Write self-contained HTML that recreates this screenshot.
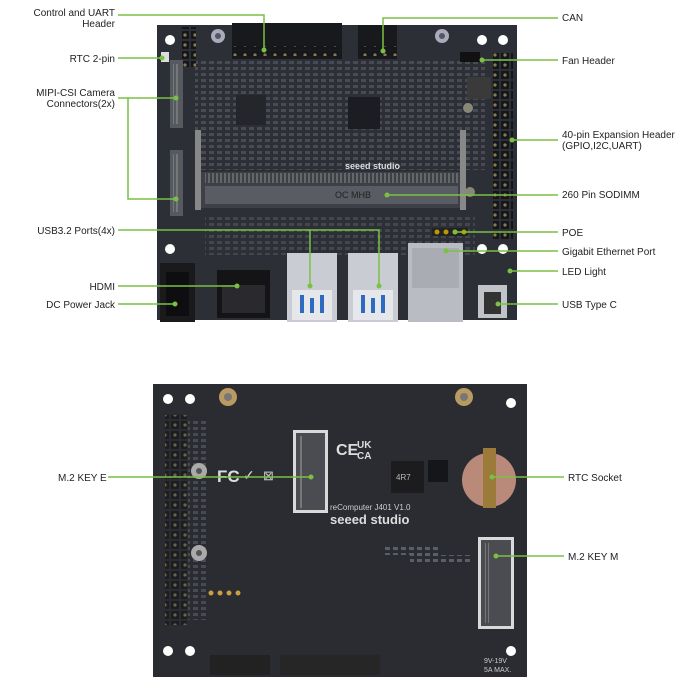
<!DOCTYPE html>
<html><head><style>
html,body{margin:0;padding:0;background:#fff;}
svg{display:block}
text{font-family:"Liberation Sans",sans-serif;font-size:10px;fill:#222}
</style></head><body>
<svg width="700" height="700" viewBox="0 0 700 700" xmlns="http://www.w3.org/2000/svg">
<defs>
<pattern id="chip" width="8" height="6" patternUnits="userSpaceOnUse"><rect x="1" y="1" width="5" height="3" fill="#5a5e66"/></pattern>
<pattern id="pins" width="4" height="4" patternUnits="userSpaceOnUse"><rect width="2" height="4" fill="#777"/></pattern>
<pattern id="hdr" width="10" height="10" patternUnits="userSpaceOnUse"><rect x="1" y="1" width="8" height="8" fill="#15161a"/><circle cx="5" cy="5" r="1.6" fill="#8a7a50"/></pattern>
</defs>
<!-- TOP BOARD -->
<rect x="157" y="25" width="360" height="295" fill="#2c2f36"/>
<rect x="195" y="60" width="290" height="110" fill="url(#chip)" opacity="0.6"/>
<rect x="205" y="215" width="270" height="40" fill="url(#chip)" opacity="0.5"/>
<circle cx="170" cy="40" r="5" fill="#fff"/><circle cx="482" cy="40" r="5" fill="#fff"/><circle cx="503" cy="40" r="5" fill="#fff"/>
<circle cx="170" cy="249" r="5" fill="#fff"/><circle cx="482" cy="249" r="5" fill="#fff"/><circle cx="503" cy="249" r="5" fill="#fff"/>
<circle cx="218" cy="36" r="7" fill="#aab"/><circle cx="218" cy="36" r="3" fill="#556"/>
<circle cx="442" cy="36" r="7" fill="#aab"/><circle cx="442" cy="36" r="3" fill="#556"/>
<circle cx="468" cy="108" r="5" fill="#887"/><circle cx="470" cy="192" r="5" fill="#887"/>
<rect x="182" y="27" width="14" height="40" fill="url(#hdr)"/>
<rect x="232" y="23" width="110" height="36" fill="#18191d"/>
<rect x="232" y="46" width="110" height="10" fill="url(#hdr)"/>
<rect x="358" y="25" width="39" height="34" fill="#18191d"/>
<rect x="358" y="46" width="39" height="10" fill="url(#hdr)"/>
<rect x="161" y="52" width="8" height="10" fill="#ddd"/>
<rect x="460" y="52" width="20" height="10" fill="#111"/>
<rect x="493" y="53" width="20" height="187" fill="url(#hdr)"/>
<rect x="467" y="77" width="24" height="22" fill="#3a3a3a"/>
<rect x="348" y="97" width="32" height="32" fill="#1c1d22"/>
<rect x="236" y="95" width="30" height="30" fill="#24262b"/>
<rect x="170" y="60" width="13" height="68" fill="#555a60"/><rect x="173" y="64" width="6" height="60" fill="url(#pins)"/>
<rect x="170" y="150" width="13" height="66" fill="#555a60"/><rect x="173" y="154" width="6" height="58" fill="url(#pins)"/>
<rect x="200" y="172" width="263" height="36" fill="#3e4047"/>
<rect x="205" y="173" width="253" height="10" fill="url(#pins)" opacity="0.7"/>
<rect x="205" y="186" width="253" height="18" fill="#5a5c63"/>
<text x="335" y="198" style="font-size:9px;fill:#222">OC MHB</text>
<text x="345" y="169" style="font-size:9px;fill:#ddd;font-weight:bold">seeed studio</text>
<rect x="195" y="130" width="6" height="80" fill="#888"/><rect x="460" y="130" width="6" height="80" fill="#888"/>
<rect x="160" y="263" width="35" height="59" fill="#1a1a1c"/><rect x="166" y="272" width="23" height="44" fill="#0e0e10"/>
<rect x="217" y="270" width="53" height="48" fill="#141416"/><rect x="222" y="285" width="43" height="28" fill="#2a2a2e"/>
<rect x="287" y="253" width="50" height="69" fill="#c9ccd2"/><rect x="292" y="290" width="40" height="30" fill="#e5e7ea"/><rect x="300" y="295" width="4" height="18" fill="#2d6bc0"/><rect x="320" y="295" width="4" height="18" fill="#2d6bc0"/><rect x="310" y="298" width="4" height="15" fill="#2d6bc0"/>
<rect x="348" y="253" width="50" height="69" fill="#c9ccd2"/><rect x="353" y="290" width="40" height="30" fill="#e5e7ea"/><rect x="361" y="295" width="4" height="18" fill="#2d6bc0"/><rect x="381" y="295" width="4" height="18" fill="#2d6bc0"/><rect x="371" y="298" width="4" height="15" fill="#2d6bc0"/>
<rect x="408" y="243" width="55" height="79" fill="#b9bcc2"/><rect x="412" y="248" width="47" height="40" fill="#a9acb2"/>
<rect x="478" y="285" width="29" height="33" fill="#c0c3c8"/><rect x="484" y="292" width="17" height="22" fill="#333"/>
<rect x="432" y="228" width="36" height="8" fill="#222"/><circle cx="437" cy="232" r="2.5" fill="#b90"/><circle cx="446" cy="232" r="2.5" fill="#b90"/><circle cx="455" cy="232" r="2.5" fill="#b90"/><circle cx="464" cy="232" r="2.5" fill="#b90"/>

<!-- BOTTOM BOARD -->
<rect x="153" y="384" width="374" height="293" fill="#2a2c32"/>
<rect x="165" y="415" width="22" height="210" fill="url(#hdr)" opacity="0.7"/>
<rect x="188" y="420" width="18" height="200" fill="url(#chip)" opacity="0.6"/>
<circle cx="168" cy="399" r="5" fill="#fff"/><circle cx="190" cy="399" r="5" fill="#fff"/>
<circle cx="168" cy="651" r="5" fill="#fff"/><circle cx="190" cy="651" r="5" fill="#fff"/>
<circle cx="511" cy="403" r="5" fill="#fff"/><circle cx="511" cy="651" r="5" fill="#fff"/>
<circle cx="228" cy="397" r="9" fill="#b99a62"/><circle cx="228" cy="397" r="4" fill="#777"/>
<circle cx="464" cy="397" r="9" fill="#b99a62"/><circle cx="464" cy="397" r="4" fill="#777"/>
<circle cx="199" cy="471" r="8" fill="#aaa"/><circle cx="199" cy="471" r="3" fill="#555"/>
<circle cx="199" cy="553" r="8" fill="#aaa"/><circle cx="199" cy="553" r="3" fill="#555"/>
<rect x="293" y="430" width="35" height="83" fill="#d9d9d9"/><rect x="296" y="433" width="29" height="77" fill="#4a4c52"/><rect x="300" y="436" width="4" height="72" fill="url(#pins)"/>
<rect x="478" y="537" width="36" height="92" fill="#d9d9d9"/><rect x="481" y="540" width="30" height="86" fill="#4a4c52"/><rect x="485" y="543" width="4" height="80" fill="url(#pins)"/>
<text x="217" y="482" style="font-size:17px;fill:#ddd;font-weight:bold">FC</text>
<text x="243" y="480" style="font-size:14px;fill:#ddd">✓</text>
<text x="263" y="480" style="font-size:13px;fill:#ccc">⊠</text>
<text x="336" y="455" style="font-size:16px;fill:#ddd;font-weight:bold">CE</text>
<text x="357" y="448" style="font-size:10px;fill:#ddd;font-weight:bold">UK</text>
<text x="357" y="459" style="font-size:10px;fill:#ddd;font-weight:bold">CA</text>
<rect x="391" y="461" width="33" height="32" fill="#1c1c1f"/><text x="396" y="480" style="font-size:8px;fill:#bbb">4R7</text>
<rect x="428" y="460" width="20" height="22" fill="#15161a"/>
<circle cx="489" cy="480" r="27" fill="#b98a7a"/><rect x="483" y="448" width="13" height="60" fill="#9c7a3a"/>
<text x="330" y="510" style="font-size:8px;fill:#ccc">reComputer J401 V1.0</text>
<text x="330" y="524" style="font-size:13px;fill:#ddd;font-weight:bold">seeed studio</text>
<rect x="384" y="545" width="56" height="10" fill="url(#chip)"/><rect x="410" y="555" width="62" height="10" fill="url(#chip)"/>
<g fill="#c9a040"><circle cx="211" cy="593" r="2.5"/><circle cx="220" cy="593" r="2.5"/><circle cx="229" cy="593" r="2.5"/><circle cx="238" cy="593" r="2.5"/></g>
<rect x="210" y="655" width="60" height="20" fill="#222"/>
<rect x="280" y="655" width="100" height="20" fill="#262626"/>
<text x="484" y="663" style="font-size:7px;fill:#ccc">9V-19V</text><text x="484" y="672" style="font-size:7px;fill:#ccc">5A MAX.</text>

<!-- callout lines (on top) -->
<g stroke="#7ac143" stroke-width="1.5" fill="none">
<polyline points="118,15 264,15 264,50"/>
<polyline points="558,18 383,18 383,51"/>
<line x1="118" y1="58" x2="162" y2="58"/>
<polyline points="176,98 128,98 128,199 176,199"/>
<line x1="118" y1="98" x2="128" y2="98"/>
<polyline points="118,230 379,230 379,286"/>
<line x1="310" y1="230" x2="310" y2="286"/>
<line x1="118" y1="286" x2="237" y2="286"/>
<line x1="118" y1="304" x2="175" y2="304"/>
<line x1="482" y1="60" x2="558" y2="60"/>
<line x1="512" y1="140" x2="558" y2="140"/>
<line x1="387" y1="195" x2="558" y2="195"/>
<line x1="455" y1="232" x2="558" y2="232"/>
<line x1="446" y1="251" x2="558" y2="251"/>
<line x1="510" y1="271" x2="558" y2="271"/>
<line x1="498" y1="304" x2="558" y2="304"/>
<line x1="108" y1="477" x2="311" y2="477"/>
<line x1="492" y1="477" x2="564" y2="477"/>
<line x1="496" y1="556" x2="564" y2="556"/>
</g>
<g fill="#7ac143">
<circle cx="264" cy="50" r="2.5"/><circle cx="383" cy="51" r="2.5"/><circle cx="162" cy="58" r="2.5"/>
<circle cx="176" cy="98" r="2.5"/><circle cx="176" cy="199" r="2.5"/><circle cx="310" cy="286" r="2.5"/><circle cx="379" cy="286" r="2.5"/>
<circle cx="237" cy="286" r="2.5"/><circle cx="175" cy="304" r="2.5"/><circle cx="482" cy="60" r="2.5"/><circle cx="512" cy="140" r="2.5"/>
<circle cx="387" cy="195" r="2.5"/><circle cx="455" cy="232" r="2.5"/><circle cx="446" cy="251" r="2.5"/><circle cx="510" cy="271" r="2.5"/><circle cx="498" cy="304" r="2.5"/>
<circle cx="311" cy="477" r="2.5"/><circle cx="492" cy="477" r="2.5"/><circle cx="496" cy="556" r="2.5"/>
</g>
<g text-anchor="end">
<text x="115" y="16">Control and UART</text><text x="115" y="27">Header</text>
<text x="115" y="62">RTC 2-pin</text>
<text x="115" y="96">MIPI-CSI Camera</text><text x="115" y="107">Connectors(2x)</text>
<text x="115" y="234">USB3.2 Ports(4x)</text>
<text x="115" y="290">HDMI</text>
<text x="115" y="308">DC Power Jack</text>
</g>
<text x="562" y="21">CAN</text>
<text x="562" y="64">Fan Header</text>
<text x="562" y="138">40-pin Expansion Header</text><text x="562" y="149">(GPIO,I2C,UART)</text>
<text x="562" y="198">260 Pin SODIMM</text>
<text x="562" y="236">POE</text>
<text x="562" y="255">Gigabit Ethernet Port</text>
<text x="562" y="275">LED Light</text>
<text x="562" y="308">USB Type C</text>
<text x="58" y="481">M.2 KEY E</text>
<text x="568" y="481">RTC Socket</text>
<text x="568" y="560">M.2 KEY M</text>
</svg>
</body></html>
